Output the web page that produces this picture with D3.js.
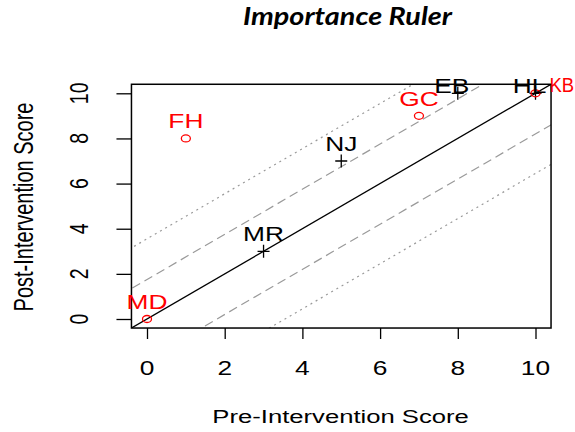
<!DOCTYPE html>
<html>
<head>
<meta charset="UTF-8">
<script src="https://d3js.org/d3.v7.min.js"></script>
<style>
  body { margin: 0; background: white; }
  text { font-family: "Liberation Sans", Arial, sans-serif; }
  .title { font-family: Lato, "Open Sans", sans-serif; font-weight: bold; font-style: italic; }
</style>
</head>
<body>
<svg id="chart" width="575" height="432"></svg>
<script>
// people and their scores
var names = ["MD", "MR", "NJ", "FH", "GC", "EB", "HL", "KB"]
var preScore = [0, 3, 5, 1, 7, 8, 10, 10]
var postScore = [0, 3, 7, 8, 9, 10, 10, 10]
var group = ["red", "black", "black", "red", "red", "black", "black", "red"]

var tickValues = [0, 2, 4, 6, 8, 10]
var bandOffsets = [-3.55, -1.8, 0, 1.75, 3.55]

var svg = d3.select("#chart")
var SX = 1.35 // the picture is stretched sideways

var x = d3.scaleLinear().domain([0, 10]).range([147, 535.5])
var y = d3.scaleLinear().domain([0, 10]).range([319, 93.3])
var xMin = -0.4, xMax = 10.4, yMin = -0.4, yMax = 10.4

// stretched text helper
function stext(px, py, str, opts) {
  opts = opts || {}
  var t = "translate(" + px + "," + py + ") scale(" + (opts.sx || SX) + ",1)"
  if (opts.rotate) t += " rotate(" + opts.rotate + ")"
  return svg.append("text")
    .attr("transform", t)
    .attr("text-anchor", opts.anchor || "middle")
    .attr("font-size", opts.size || 19.5)
    .attr("fill", opts.fill || "black")
    .text(str)
}

// clip for ablines
svg.append("clipPath").attr("id", "plotclip").append("rect")
  .attr("x", x(xMin)).attr("y", y(yMax))
  .attr("width", x(xMax) - x(xMin)).attr("height", y(yMin) - y(yMax))

var lines = svg.append("g").attr("clip-path", "url(#plotclip)")
bandOffsets.forEach(function (b) {
  var dash = Math.abs(b) > 3 ? "2,4" : (b == 0 ? null : "9,5")
  lines.append("line")
    .attr("x1", x(-1)).attr("y1", y(-1 + b))
    .attr("x2", x(11)).attr("y2", y(11 + b))
    .attr("stroke", b == 0 ? "black" : "#9a9a9a")
    .attr("stroke-width", b == 0 ? 1.3 : 1.2)
    .attr("stroke-dasharray", dash)
})

// box
svg.append("rect")
  .attr("x", x(xMin)).attr("y", y(yMax))
  .attr("width", x(xMax) - x(xMin)).attr("height", y(yMin) - y(yMax))
  .attr("fill", "none").attr("stroke", "black").attr("stroke-width", 1.5)

// x axis
var xAxis = d3.axisBottom(x).tickValues(tickValues).tickSize(11).tickFormat("")
svg.append("g").attr("transform", "translate(0," + y(yMin) + ")").call(xAxis)
  .call(function (g) { g.select(".domain").remove() })
  .selectAll("line").attr("stroke-width", 1.3)
tickValues.forEach(function (v) { stext(x(v), 375, v) })

// y axis
var yAxis = d3.axisLeft(y).tickValues(tickValues).tickSize(15).tickFormat("")
svg.append("g").attr("transform", "translate(" + x(xMin) + ",0)").call(yAxis)
  .call(function (g) { g.select(".domain").remove() })
  .selectAll("line").attr("stroke-width", 1.3)
tickValues.forEach(function (v) { stext(88, y(v), v, { rotate: -90 }) })

// axis titles
stext(340.6, 423, "Pre-Intervention Score", { size: 19 })
stext(33, 207, "Post-Intervention Score", { size: 20, rotate: -90 })

// title
svg.append("text").attr("class", "title")
  .attr("x", 347.5).attr("y", 25).attr("text-anchor", "middle")
  .attr("font-size", 25).attr("textLength", 209).attr("lengthAdjust", "spacingAndGlyphs")
  .text("Importance Ruler")

// points
names.forEach(function (n, i) {
  var px = x(preScore[i]), py = y(postScore[i])
  if (group[i] == "red") {
    svg.append("ellipse").attr("cx", px).attr("cy", py).attr("rx", 4.5).attr("ry", 3.5)
      .attr("fill", "none").attr("stroke", "red").attr("stroke-width", 1.3)
  } else {
    svg.append("path")
      .attr("d", "M" + (px - 6) + "," + py + "H" + (px + 6) + "M" + px + "," + (py - 6.5) + "V" + (py + 6.5))
      .attr("stroke", "black").attr("stroke-width", 1.3)
  }
})

// labels, mostly above the point; KB sits to the right, squeezed at the edge
var labelShift = { EB: [-6, 0], HL: [-6, 0], KB: [14, -1] }
names.forEach(function (n, i) {
  var px = x(preScore[i]), py = y(postScore[i])
  var s = labelShift[n]
  var dx = s ? s[0] : 0
  var dy = s ? s[1] : -10
  stext(px + dx, py + dy, n, {
    fill: group[i],
    anchor: n == "KB" ? "start" : "middle",
    sx: n == "KB" ? 0.95 : SX
  })
})
</script>
</body>
</html>
